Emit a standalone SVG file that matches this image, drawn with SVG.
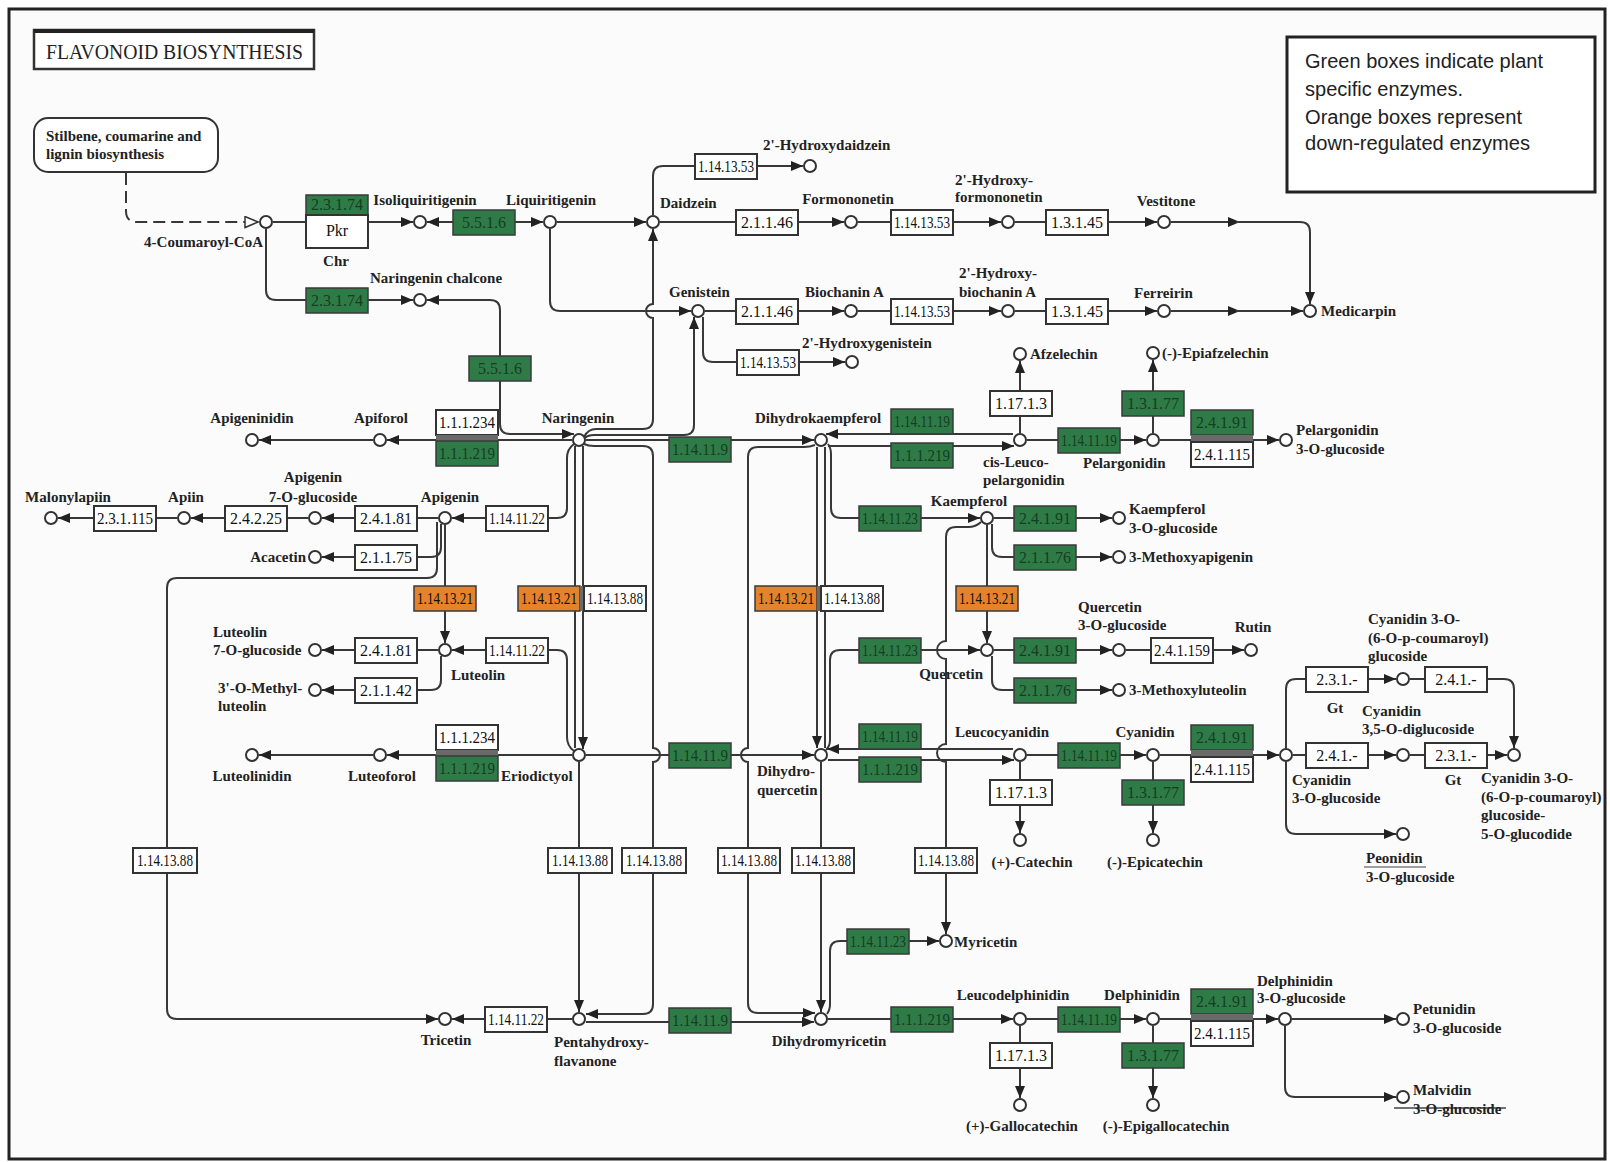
<svg xmlns="http://www.w3.org/2000/svg" width="1610" height="1162" viewBox="0 0 1610 1162">
<defs>
<style>
.ln{fill:none;stroke:#383838;stroke-width:2}
.ar{marker-end:url(#ah)}
.cp{fill:#fff;stroke:#333;stroke-width:2}
.bw{fill:#fff;stroke:#333;stroke-width:2}
.bg{fill:#2f7b47;stroke:#3a3a3a;stroke-width:1.5}
.bo{fill:#e5832c;stroke:#3a3a3a;stroke-width:1.5}
.band{fill:#6a6a6a}
.t{font-family:"Liberation Serif",serif;font-weight:bold;font-size:15px;fill:#222}
.m{text-anchor:middle}
.en{text-anchor:end}
.e{font-family:"Liberation Serif",serif;font-size:16px;text-anchor:middle;fill:#111}
.g{fill:#163d22}
.leg{font-family:"Liberation Sans",sans-serif;font-size:20px;fill:#222}
</style>
<marker id="ah" markerUnits="userSpaceOnUse" markerWidth="12" markerHeight="10" refX="12" refY="5" orient="auto"><path d="M0,0 L12,5 L0,10 z" fill="#222"/></marker>
<marker id="oa" markerUnits="userSpaceOnUse" markerWidth="15" markerHeight="13" refX="14" refY="6.5" orient="auto"><path d="M1,1 L14,6.5 L1,12 z" fill="#fff" stroke="#333" stroke-width="1.5"/></marker>
</defs>

<rect x="0" y="0" width="1610" height="1162" fill="#fff"/>
<rect x="9" y="9" width="1596" height="1150" fill="#fbfbfb" stroke="#222" stroke-width="3"/>

<!-- title -->
<g id="title">
<rect x="34" y="30" width="280" height="39" fill="#fff" stroke="#333" stroke-width="2.5"/>
<line x1="34" y1="31" x2="314" y2="31" stroke="#222" stroke-width="4"/>
<text x="46" y="59" font-family="Liberation Serif,serif" font-size="22" fill="#222" textLength="257" lengthAdjust="spacingAndGlyphs">FLAVONOID BIOSYNTHESIS</text>
</g>

<!-- legend -->
<g id="legend">
<rect x="1287" y="37" width="308" height="155" fill="#fff" stroke="#222" stroke-width="3"/>
<text class="leg" x="1305" y="68" textLength="238" lengthAdjust="spacingAndGlyphs">Green boxes indicate plant</text>
<text class="leg" x="1305" y="96" textLength="158" lengthAdjust="spacingAndGlyphs">specific enzymes.</text>
<text class="leg" x="1305" y="124" textLength="217" lengthAdjust="spacingAndGlyphs">Orange boxes represent</text>
<text class="leg" x="1305" y="150" textLength="225" lengthAdjust="spacingAndGlyphs">down-regulated enzymes</text>
</g>

<!-- linked pathway map -->
<g id="map-stilbene">
<rect x="34" y="118" width="184" height="54" rx="14" fill="#fff" stroke="#333" stroke-width="2"/>
<text class="t" x="46" y="141" font-size="13">Stilbene, coumarine and</text>
<text class="t" x="46" y="159" font-size="13">lignin biosynthesis</text>
</g>

<!-- reaction lines -->
<g id="connectors">
<path class="ln" stroke-dasharray="12 6" d="M126,173 L126,211 Q126,222 137,222 L258,222" marker-end="url(#oa)"/>
<path class="ln ar" d="M273,222 L413,222"/>
<path class="ln ar" d="M266,229 L266,290 Q266,300 276,300 L413,300"/>
<path class="ln ar" d="M500,222 L427,222"/>
<path class="ln ar" d="M470,222 L543,222"/>
<path class="ln ar" d="M557,222 L646,222"/>
<path class="ln ar" d="M550,229 L550,301 Q550,311 560,311 L691,311"/>
<path class="ln ar" d="M584,437 Q588,429 596,429 L643,429 Q653,429 653,419 L653,318 A7,7 0 0 1 653,304 L653,229"/>
<path class="ln ar" d="M585,438 Q588,435 594,435 L684,435 Q694,435 694,425 L694,317"/>
<path class="ln ar" d="M653,215 L653,176 Q653,166 663,166 L803,166"/>
<path class="ln ar" d="M660,222 L844,222"/>
<path class="ln ar" d="M858,222 L1001,222"/>
<path class="ln ar" d="M1015,222 L1157,222"/>
<path class="ln ar" d="M1171,222 L1240,222"/>
<path class="ln ar" d="M1236,222 L1300,222 Q1310,222 1310,232 L1310,304"/>
<path class="ln ar" d="M705,311 L844,311"/>
<path class="ln ar" d="M858,311 L1001,311"/>
<path class="ln ar" d="M1015,311 L1157,311"/>
<path class="ln ar" d="M1171,311 L1240,311"/>
<path class="ln ar" d="M1236,311 L1303,311"/>
<path class="ln ar" d="M703,317 L703,352 Q703,362 713,362 L845,362"/>
<path class="ln ar" d="M500,356 L500,310 Q500,300 490,300 L427,300"/>
<path class="ln ar" d="M500,381 L500,424 Q500,434 510,434 L574,434"/>
<path class="ln ar" d="M572,440 L387,440"/>
<path class="ln ar" d="M373,440 L259,440"/>
<path class="ln ar" d="M586,440 L814,440"/>
<path class="ln ar" d="M574,444 Q567,449 567,458 L567,508 Q567,518 557,518 L452,518"/>
<path class="ln" d="M575,446 L575,748"/>
<path class="ln ar" d="M583,446 L583,749"/>
<path class="ln ar" d="M584,444 Q588,446 594,446 L643,446 Q653,446 653,456 L653,748 A7,7 0 0 1 653,762 L653,1004 Q653,1014 643,1014 L586,1014"/>
<path class="ln ar" d="M445,525 L445,643"/>
<path class="ln ar" d="M441,524 L441,547 Q441,557 431,557 L322,557"/>
<path class="ln ar" d="M437,522 L437,568 Q437,578 427,578 L177,578 Q167,578 167,588 L167,1009 Q167,1019 177,1019 L438,1019"/>
<path class="ln ar" d="M438,518 L322,518"/>
<path class="ln ar" d="M308,518 L191,518"/>
<path class="ln ar" d="M177,518 L58,518"/>
<path class="ln ar" d="M438,650 L322,650"/>
<path class="ln ar" d="M441,656 L441,680 Q441,690 431,690 L322,690"/>
<path class="ln ar" d="M574,751 Q567,746 567,737 L567,660 Q567,650 557,650 L452,650"/>
<path class="ln ar" d="M572,755 L387,755"/>
<path class="ln ar" d="M373,755 L259,755"/>
<path class="ln ar" d="M586,755 L814,755"/>
<path class="ln ar" d="M579,762 L579,1012"/>
<path class="ln ar" d="M815,445 Q810,447 804,447 L758,447 Q748,447 748,457 L748,748 A7,7 0 0 0 748,762 L748,1003 Q748,1013 758,1013 L815,1013"/>
<path class="ln ar" d="M817,447 L817,748"/>
<path class="ln" d="M825,447 L825,748"/>
<path class="ln ar" d="M828,444 Q831,448 831,454 L831,508 Q831,518 841,518 L980,518"/>
<path class="ln ar" d="M1013,434 L826,434"/>
<path class="ln ar" d="M828,446 L1014,446"/>
<path class="ln ar" d="M1020,433 L1020,361"/>
<path class="ln ar" d="M1027,440 L1146,440"/>
<path class="ln ar" d="M1153,433 L1153,360"/>
<path class="ln ar" d="M1160,440 L1279,440"/>
<path class="ln ar" d="M994,518 L1112,518"/>
<path class="ln ar" d="M992,524 L992,547 Q992,557 1002,557 L1112,557"/>
<path class="ln ar" d="M987,525 L987,643"/>
<path class="ln ar" d="M981,522 Q976,527 968,527 L956,527 Q946,527 946,537 L946,641 A9,9 0 0 0 946,659 L946,744 A9,9 0 0 0 946,762 L946,934"/>
<path class="ln ar" d="M826,750 Q830,746 830,740 L830,660 Q830,650 840,650 L980,650"/>
<path class="ln ar" d="M994,650 L1112,650"/>
<path class="ln ar" d="M1126,650 L1244,650"/>
<path class="ln ar" d="M992,656 L992,680 Q992,690 1002,690 L1112,690"/>
<path class="ln ar" d="M1013,749 L827,749"/>
<path class="ln ar" d="M828,760 L1014,760"/>
<path class="ln ar" d="M1020,762 L1020,833"/>
<path class="ln ar" d="M1027,755 L1146,755"/>
<path class="ln ar" d="M1153,762 L1153,833"/>
<path class="ln ar" d="M1160,755 L1279,755"/>
<path class="ln ar" d="M1286,748 L1286,689 Q1286,679 1296,679 L1396,679"/>
<path class="ln ar" d="M1410,679 L1504,679 Q1514,679 1514,689 L1514,748"/>
<path class="ln ar" d="M1293,755 L1396,755"/>
<path class="ln ar" d="M1410,755 L1507,755"/>
<path class="ln ar" d="M1286,762 L1286,824 Q1286,834 1296,834 L1396,834"/>
<path class="ln ar" d="M821,762 L821,1012"/>
<path class="ln ar" d="M827,1014 Q830,1010 830,1004 L830,951 Q830,941 840,941 L939,941"/>
<path class="ln ar" d="M586,1022 L814,1022"/>
<path class="ln ar" d="M572,1019 L452,1019"/>
<path class="ln ar" d="M828,1019 L1013,1019"/>
<path class="ln ar" d="M1020,1026 L1020,1098"/>
<path class="ln ar" d="M1027,1019 L1146,1019"/>
<path class="ln ar" d="M1153,1026 L1153,1098"/>
<path class="ln ar" d="M1160,1019 L1278,1019"/>
<path class="ln ar" d="M1292,1019 L1396,1019"/>
<path class="ln ar" d="M1285,1026 L1285,1087 Q1285,1097 1295,1097 L1396,1097"/>
<line x1="1364" y1="867" x2="1426" y2="867" stroke="#444" stroke-width="1.2"/>
<line x1="1394" y1="1108" x2="1506" y2="1108" stroke="#444" stroke-width="1.5"/>
</g>

<!-- enzyme boxes -->
<g id="enzymes">
<g id="ec-pkr-chi"><rect class="bg" x="306" y="195" width="62" height="20"/><text class="e g" x="337" y="210">2.3.1.74</text><rect class="bw" x="306" y="215" width="62" height="33"/><text class="e" x="337" y="236">Pkr</text></g>
<g id="ec-2-3-1-74"><rect class="bg" x="306" y="288" width="62" height="25"/><text class="e g" x="337" y="306">2.3.1.74</text></g>
<g id="ec-5-5-1-6-a"><rect class="bg" x="453" y="210" width="62" height="25"/><text class="e g" x="484" y="228">5.5.1.6</text></g>
<g id="ec-5-5-1-6-b"><rect class="bg" x="469" y="356" width="62" height="25"/><text class="e g" x="500" y="374">5.5.1.6</text></g>
<g id="ec-1-14-13-53-a"><rect class="bw" x="695" y="154" width="62" height="25"/><text class="e" x="726" y="172" textLength="56" lengthAdjust="spacingAndGlyphs">1.14.13.53</text></g>
<g id="ec-2-1-1-46-a"><rect class="bw" x="736" y="210" width="62" height="25"/><text class="e" x="767" y="228">2.1.1.46</text></g>
<g id="ec-1-14-13-53-b"><rect class="bw" x="891" y="210" width="62" height="25"/><text class="e" x="922" y="228" textLength="56" lengthAdjust="spacingAndGlyphs">1.14.13.53</text></g>
<g id="ec-1-3-1-45-a"><rect class="bw" x="1046" y="210" width="62" height="25"/><text class="e" x="1077" y="228">1.3.1.45</text></g>
<g id="ec-2-1-1-46-b"><rect class="bw" x="736" y="299" width="62" height="25"/><text class="e" x="767" y="317">2.1.1.46</text></g>
<g id="ec-1-14-13-53-c"><rect class="bw" x="891" y="299" width="62" height="25"/><text class="e" x="922" y="317" textLength="56" lengthAdjust="spacingAndGlyphs">1.14.13.53</text></g>
<g id="ec-1-3-1-45-b"><rect class="bw" x="1046" y="299" width="62" height="25"/><text class="e" x="1077" y="317">1.3.1.45</text></g>
<g id="ec-1-14-13-53-d"><rect class="bw" x="737" y="350" width="62" height="25"/><text class="e" x="768" y="368" textLength="56" lengthAdjust="spacingAndGlyphs">1.14.13.53</text></g>

<g id="ec-apiforol"><rect class="bw" x="436" y="410" width="62" height="25"/><text class="e" x="467" y="428" textLength="56" lengthAdjust="spacingAndGlyphs">1.1.1.234</text><rect class="band" x="436" y="435" width="62" height="6"/><rect class="bg" x="436" y="441" width="62" height="25"/><text class="e g" x="467" y="459" textLength="56" lengthAdjust="spacingAndGlyphs">1.1.1.219</text></g>
<g id="ec-1-14-11-9-a"><rect class="bg" x="669" y="437" width="62" height="25"/><text class="e g" x="700" y="455" textLength="56" lengthAdjust="spacingAndGlyphs">1.14.11.9</text></g>
<g id="ec-dhk-pair"><rect class="bg" x="891" y="409" width="62" height="25"/><text class="e g" x="922" y="427" textLength="56" lengthAdjust="spacingAndGlyphs">1.14.11.19</text><rect class="bg" x="891" y="443" width="62" height="25"/><text class="e g" x="922" y="461" textLength="56" lengthAdjust="spacingAndGlyphs">1.1.1.219</text></g>
<g id="ec-1-17-1-3-a"><rect class="bw" x="990" y="391" width="62" height="25"/><text class="e" x="1021" y="409">1.17.1.3</text></g>
<g id="ec-1-14-11-19-a"><rect class="bg" x="1058" y="428" width="62" height="25"/><text class="e g" x="1089" y="446" textLength="56" lengthAdjust="spacingAndGlyphs">1.14.11.19</text></g>
<g id="ec-1-3-1-77-a"><rect class="bg" x="1122" y="391" width="62" height="25"/><text class="e g" x="1153" y="409">1.3.1.77</text></g>
<g id="ec-pel-pair"><rect class="bg" x="1191" y="410" width="62" height="25"/><text class="e g" x="1222" y="428">2.4.1.91</text><rect class="band" x="1191" y="435" width="62" height="7"/><rect class="bw" x="1191" y="442" width="62" height="25"/><text class="e" x="1222" y="460" textLength="56" lengthAdjust="spacingAndGlyphs">2.4.1.115</text></g>

<g id="ec-1-14-11-22-a"><rect class="bw" x="486" y="506" width="62" height="25"/><text class="e" x="517" y="524" textLength="56" lengthAdjust="spacingAndGlyphs">1.14.11.22</text></g>
<g id="ec-2-4-1-81-a"><rect class="bw" x="355" y="506" width="62" height="25"/><text class="e" x="386" y="524">2.4.1.81</text></g>
<g id="ec-2-4-2-25"><rect class="bw" x="225" y="506" width="62" height="25"/><text class="e" x="256" y="524">2.4.2.25</text></g>
<g id="ec-2-3-1-115"><rect class="bw" x="94" y="506" width="62" height="25"/><text class="e" x="125" y="524" textLength="56" lengthAdjust="spacingAndGlyphs">2.3.1.115</text></g>
<g id="ec-2-1-1-75"><rect class="bw" x="355" y="545" width="62" height="25"/><text class="e" x="386" y="563">2.1.1.75</text></g>
<g id="ec-1-14-11-23-a"><rect class="bg" x="859" y="506" width="62" height="25"/><text class="e g" x="890" y="524" textLength="56" lengthAdjust="spacingAndGlyphs">1.14.11.23</text></g>
<g id="ec-2-4-1-91-a"><rect class="bg" x="1014" y="506" width="62" height="25"/><text class="e g" x="1045" y="524">2.4.1.91</text></g>
<g id="ec-2-1-1-76-a"><rect class="bg" x="1014" y="545" width="62" height="25"/><text class="e g" x="1045" y="563">2.1.1.76</text></g>

<g id="ec-1-14-13-21-a"><rect class="bo" x="414" y="586" width="62" height="25"/><text class="e" x="445" y="604" textLength="56" lengthAdjust="spacingAndGlyphs">1.14.13.21</text></g>
<g id="ec-nar-pair"><rect class="bo" x="518" y="586" width="62" height="25"/><text class="e" x="549" y="604" textLength="56" lengthAdjust="spacingAndGlyphs">1.14.13.21</text><rect class="band" x="580" y="586" width="4" height="25"/><rect class="bw" x="584" y="586" width="62" height="25"/><text class="e" x="615" y="604" textLength="56" lengthAdjust="spacingAndGlyphs">1.14.13.88</text></g>
<g id="ec-dhk-f3h-pair"><rect class="bo" x="755" y="586" width="62" height="25"/><text class="e" x="786" y="604" textLength="56" lengthAdjust="spacingAndGlyphs">1.14.13.21</text><rect class="band" x="817" y="586" width="4" height="25"/><rect class="bw" x="821" y="586" width="62" height="25"/><text class="e" x="852" y="604" textLength="56" lengthAdjust="spacingAndGlyphs">1.14.13.88</text></g>
<g id="ec-1-14-13-21-d"><rect class="bo" x="956" y="586" width="62" height="25"/><text class="e" x="987" y="604" textLength="56" lengthAdjust="spacingAndGlyphs">1.14.13.21</text></g>

<g id="ec-1-14-11-22-b"><rect class="bw" x="486" y="638" width="62" height="25"/><text class="e" x="517" y="656" textLength="56" lengthAdjust="spacingAndGlyphs">1.14.11.22</text></g>
<g id="ec-2-4-1-81-b"><rect class="bw" x="355" y="638" width="62" height="25"/><text class="e" x="386" y="656">2.4.1.81</text></g>
<g id="ec-2-1-1-42"><rect class="bw" x="355" y="678" width="62" height="25"/><text class="e" x="386" y="696">2.1.1.42</text></g>
<g id="ec-1-14-11-23-b"><rect class="bg" x="859" y="638" width="62" height="25"/><text class="e g" x="890" y="656" textLength="56" lengthAdjust="spacingAndGlyphs">1.14.11.23</text></g>
<g id="ec-2-4-1-91-b"><rect class="bg" x="1014" y="638" width="62" height="25"/><text class="e g" x="1045" y="656">2.4.1.91</text></g>
<g id="ec-2-4-1-159"><rect class="bw" x="1151" y="638" width="62" height="25"/><text class="e" x="1182" y="656" textLength="56" lengthAdjust="spacingAndGlyphs">2.4.1.159</text></g>
<g id="ec-2-1-1-76-b"><rect class="bg" x="1014" y="678" width="62" height="25"/><text class="e g" x="1045" y="696">2.1.1.76</text></g>
<g id="ec-2-3-1-x-a"><rect class="bw" x="1306" y="667" width="62" height="25"/><text class="e" x="1337" y="685">2.3.1.-</text></g>
<g id="ec-2-4-1-x-a"><rect class="bw" x="1425" y="667" width="62" height="25"/><text class="e" x="1456" y="685">2.4.1.-</text></g>

<g id="ec-luteoforol"><rect class="bw" x="436" y="725" width="62" height="25"/><text class="e" x="467" y="743" textLength="56" lengthAdjust="spacingAndGlyphs">1.1.1.234</text><rect class="band" x="436" y="750" width="62" height="6"/><rect class="bg" x="436" y="756" width="62" height="25"/><text class="e g" x="467" y="774" textLength="56" lengthAdjust="spacingAndGlyphs">1.1.1.219</text></g>
<g id="ec-1-14-11-9-b"><rect class="bg" x="669" y="743" width="62" height="25"/><text class="e g" x="700" y="761" textLength="56" lengthAdjust="spacingAndGlyphs">1.14.11.9</text></g>
<g id="ec-dhq-pair"><rect class="bg" x="859" y="724" width="62" height="25"/><text class="e g" x="890" y="742" textLength="56" lengthAdjust="spacingAndGlyphs">1.14.11.19</text><rect class="bg" x="859" y="757" width="62" height="25"/><text class="e g" x="890" y="775" textLength="56" lengthAdjust="spacingAndGlyphs">1.1.1.219</text></g>
<g id="ec-1-17-1-3-b"><rect class="bw" x="990" y="780" width="62" height="25"/><text class="e" x="1021" y="798">1.17.1.3</text></g>
<g id="ec-1-14-11-19-b"><rect class="bg" x="1058" y="743" width="62" height="25"/><text class="e g" x="1089" y="761" textLength="56" lengthAdjust="spacingAndGlyphs">1.14.11.19</text></g>
<g id="ec-1-3-1-77-b"><rect class="bg" x="1122" y="780" width="62" height="25"/><text class="e g" x="1153" y="798">1.3.1.77</text></g>
<g id="ec-cya-pair"><rect class="bg" x="1191" y="725" width="62" height="25"/><text class="e g" x="1222" y="743">2.4.1.91</text><rect class="band" x="1191" y="750" width="62" height="7"/><rect class="bw" x="1191" y="757" width="62" height="25"/><text class="e" x="1222" y="775" textLength="56" lengthAdjust="spacingAndGlyphs">2.4.1.115</text></g>
<g id="ec-2-4-1-x-b"><rect class="bw" x="1306" y="743" width="62" height="25"/><text class="e" x="1337" y="761">2.4.1.-</text></g>
<g id="ec-2-3-1-x-b"><rect class="bw" x="1425" y="743" width="62" height="25"/><text class="e" x="1456" y="761">2.3.1.-</text></g>

<g id="ec-f35h-row">
<rect class="bw" x="133" y="848" width="64" height="25"/><text class="e" x="165" y="866" textLength="56" lengthAdjust="spacingAndGlyphs">1.14.13.88</text>
<rect class="bw" x="548" y="848" width="64" height="25"/><text class="e" x="580" y="866" textLength="56" lengthAdjust="spacingAndGlyphs">1.14.13.88</text>
<rect class="bw" x="622" y="848" width="64" height="25"/><text class="e" x="654" y="866" textLength="56" lengthAdjust="spacingAndGlyphs">1.14.13.88</text>
<rect class="bw" x="718" y="848" width="62" height="25"/><text class="e" x="749" y="866" textLength="56" lengthAdjust="spacingAndGlyphs">1.14.13.88</text>
<rect class="bw" x="792" y="848" width="62" height="25"/><text class="e" x="823" y="866" textLength="56" lengthAdjust="spacingAndGlyphs">1.14.13.88</text>
<rect class="bw" x="915" y="848" width="62" height="25"/><text class="e" x="946" y="866" textLength="56" lengthAdjust="spacingAndGlyphs">1.14.13.88</text>
</g>
<g id="ec-1-14-11-23-c"><rect class="bg" x="847" y="929" width="62" height="25"/><text class="e g" x="878" y="947" textLength="56" lengthAdjust="spacingAndGlyphs">1.14.11.23</text></g>
<g id="ec-1-14-11-22-c"><rect class="bw" x="485" y="1007" width="62" height="25"/><text class="e" x="516" y="1025" textLength="56" lengthAdjust="spacingAndGlyphs">1.14.11.22</text></g>
<g id="ec-1-14-11-9-c"><rect class="bg" x="669" y="1008" width="62" height="25"/><text class="e g" x="700" y="1026" textLength="56" lengthAdjust="spacingAndGlyphs">1.14.11.9</text></g>
<g id="ec-1-1-1-219-d"><rect class="bg" x="891" y="1007" width="62" height="25"/><text class="e g" x="922" y="1025" textLength="56" lengthAdjust="spacingAndGlyphs">1.1.1.219</text></g>
<g id="ec-1-17-1-3-c"><rect class="bw" x="990" y="1043" width="62" height="25"/><text class="e" x="1021" y="1061">1.17.1.3</text></g>
<g id="ec-1-14-11-19-c"><rect class="bg" x="1058" y="1007" width="62" height="25"/><text class="e g" x="1089" y="1025" textLength="56" lengthAdjust="spacingAndGlyphs">1.14.11.19</text></g>
<g id="ec-1-3-1-77-c"><rect class="bg" x="1122" y="1043" width="62" height="25"/><text class="e g" x="1153" y="1061">1.3.1.77</text></g>
<g id="ec-del-pair"><rect class="bg" x="1191" y="989" width="62" height="25"/><text class="e g" x="1222" y="1007">2.4.1.91</text><rect class="band" x="1191" y="1014" width="62" height="7"/><rect class="bw" x="1191" y="1021" width="62" height="25"/><text class="e" x="1222" y="1039" textLength="56" lengthAdjust="spacingAndGlyphs">2.4.1.115</text></g>
<text class="t m" x="336" y="266">Chr</text>
<text class="t m" x="1335" y="713">Gt</text>
<text class="t m" x="1453" y="785">Gt</text>
</g>

<!-- compounds -->
<g id="compounds">
<g id="cpd-coumaroyl-coa"><circle class="cp" cx="266" cy="222" r="6"/><text class="t en" x="263" y="247">4-Coumaroyl-CoA</text></g>
<g id="cpd-isoliquiritigenin"><circle class="cp" cx="420" cy="222" r="6"/><text class="t m" x="425" y="205">Isoliquiritigenin</text></g>
<g id="cpd-liquiritigenin"><circle class="cp" cx="550" cy="222" r="6"/><text class="t m" x="551" y="205">Liquiritigenin</text></g>
<g id="cpd-naringenin-chalcone"><circle class="cp" cx="420" cy="300" r="6"/><text class="t" x="370" y="283">Naringenin chalcone</text></g>
<g id="cpd-daidzein"><circle class="cp" cx="653" cy="222" r="6"/><text class="t" x="660" y="208">Daidzein</text></g>
<g id="cpd-2-hydroxydaidzein"><circle class="cp" cx="810" cy="166" r="6"/><text class="t" x="763" y="150">2'-Hydroxydaidzein</text></g>
<g id="cpd-formononetin"><circle class="cp" cx="851" cy="222" r="6"/><text class="t m" x="848" y="204">Formononetin</text></g>
<g id="cpd-2-hydroxyformononetin"><circle class="cp" cx="1008" cy="222" r="6"/><text class="t" x="955" y="185">2'-Hydroxy-</text><text class="t" x="955" y="202">formononetin</text></g>
<g id="cpd-vestitone"><circle class="cp" cx="1164" cy="222" r="6"/><text class="t m" x="1166" y="206">Vestitone</text></g>
<g id="cpd-medicarpin"><circle class="cp" cx="1310" cy="311" r="6"/><text class="t" x="1321" y="316">Medicarpin</text></g>
<g id="cpd-genistein"><circle class="cp" cx="698" cy="311" r="6"/><text class="t" x="669" y="297">Genistein</text></g>
<g id="cpd-biochanin-a"><circle class="cp" cx="851" cy="311" r="6"/><text class="t" x="805" y="297">Biochanin A</text></g>
<g id="cpd-2-hydroxybiochanin-a"><circle class="cp" cx="1008" cy="311" r="6"/><text class="t" x="959" y="278">2'-Hydroxy-</text><text class="t" x="959" y="297">biochanin A</text></g>
<g id="cpd-ferreirin"><circle class="cp" cx="1164" cy="311" r="6"/><text class="t" x="1134" y="298">Ferreirin</text></g>
<g id="cpd-2-hydroxygenistein"><circle class="cp" cx="852" cy="362" r="6"/><text class="t" x="802" y="348">2'-Hydroxygenistein</text></g>
<g id="cpd-naringenin"><circle class="cp" cx="579" cy="440" r="6"/><text class="t m" x="578" y="423">Naringenin</text></g>
<g id="cpd-apiforol"><circle class="cp" cx="380" cy="440" r="6"/><text class="t m" x="381" y="423">Apiforol</text></g>
<g id="cpd-apigeninidin"><circle class="cp" cx="252" cy="440" r="6"/><text class="t m" x="252" y="423">Apigeninidin</text></g>
<g id="cpd-dihydrokaempferol"><circle class="cp" cx="821" cy="440" r="6"/><text class="t m" x="818" y="423">Dihydrokaempferol</text></g>
<g id="cpd-cis-leucopelargonidin"><circle class="cp" cx="1020" cy="440" r="6"/><text class="t" x="983" y="467">cis-Leuco-</text><text class="t" x="983" y="485">pelargonidin</text></g>
<g id="cpd-afzelechin"><circle class="cp" cx="1020" cy="354" r="6"/><text class="t" x="1030" y="359">Afzelechin</text></g>
<g id="cpd-pelargonidin"><circle class="cp" cx="1153" cy="440" r="6"/><text class="t" x="1083" y="468">Pelargonidin</text></g>
<g id="cpd-epiafzelechin"><circle class="cp" cx="1153" cy="353" r="6"/><text class="t" x="1162" y="358">(-)-Epiafzelechin</text></g>
<g id="cpd-pelargonidin-3g"><circle class="cp" cx="1286" cy="440" r="6"/><text class="t" x="1296" y="435">Pelargonidin</text><text class="t" x="1296" y="454">3-O-glucoside</text></g>
<g id="cpd-apigenin"><circle class="cp" cx="445" cy="518" r="6"/><text class="t m" x="450" y="502">Apigenin</text></g>
<g id="cpd-apigenin-7g"><circle class="cp" cx="315" cy="518" r="6"/><text class="t m" x="313" y="482">Apigenin</text><text class="t m" x="313" y="502">7-O-glucoside</text></g>
<g id="cpd-apiin"><circle class="cp" cx="184" cy="518" r="6"/><text class="t m" x="186" y="502">Apiin</text></g>
<g id="cpd-malonylapiin"><circle class="cp" cx="51" cy="518" r="6"/><text class="t m" x="68" y="502">Malonylapiin</text></g>
<g id="cpd-acacetin"><circle class="cp" cx="315" cy="557" r="6"/><text class="t en" x="306" y="562">Acacetin</text></g>
<g id="cpd-kaempferol"><circle class="cp" cx="987" cy="518" r="6"/><text class="t m" x="969" y="506">Kaempferol</text></g>
<g id="cpd-kaempferol-3g"><circle class="cp" cx="1119" cy="518" r="6"/><text class="t" x="1129" y="514">Kaempferol</text><text class="t" x="1129" y="533">3-O-glucoside</text></g>
<g id="cpd-3-methoxyapigenin"><circle class="cp" cx="1119" cy="557" r="6"/><text class="t" x="1129" y="562">3-Methoxyapigenin</text></g>
<g id="cpd-luteolin"><circle class="cp" cx="445" cy="650" r="6"/><text class="t" x="451" y="680">Luteolin</text></g>
<g id="cpd-luteolin-7g"><circle class="cp" cx="315" cy="650" r="6"/><text class="t" x="213" y="637">Luteolin</text><text class="t" x="213" y="655">7-O-glucoside</text></g>
<g id="cpd-methylluteolin"><circle class="cp" cx="315" cy="690" r="6"/><text class="t" x="218" y="693">3'-O-Methyl-</text><text class="t" x="218" y="711">luteolin</text></g>
<g id="cpd-quercetin"><circle class="cp" cx="987" cy="650" r="6"/><text class="t en" x="983" y="679">Quercetin</text></g>
<g id="cpd-quercetin-3g"><circle class="cp" cx="1119" cy="650" r="6"/><text class="t" x="1078" y="612">Quercetin</text><text class="t" x="1078" y="630">3-O-glucoside</text></g>
<g id="cpd-rutin"><circle class="cp" cx="1251" cy="650" r="6"/><text class="t m" x="1253" y="632">Rutin</text></g>
<g id="cpd-3-methoxyluteolin"><circle class="cp" cx="1119" cy="690" r="6"/><text class="t" x="1129" y="695">3-Methoxyluteolin</text></g>
<g id="cpd-cyanidin-3-coumaroylglucoside"><circle class="cp" cx="1403" cy="679" r="6"/><text class="t" x="1368" y="624">Cyanidin 3-O-</text><text class="t" x="1368" y="643">(6-O-p-coumaroyl)</text><text class="t" x="1368" y="661">glucoside</text></g>
<g id="cpd-cyanidin-35-diglucoside"><circle class="cp" cx="1403" cy="755" r="6"/><text class="t" x="1362" y="716">Cyanidin</text><text class="t" x="1362" y="734">3,5-O-diglucoside</text></g>
<g id="cpd-cyanidin-coumaroyl-5g"><circle class="cp" cx="1514" cy="755" r="6"/><text class="t" x="1481" y="783">Cyanidin 3-O-</text><text class="t" x="1481" y="802">(6-O-p-coumaroyl)</text><text class="t" x="1481" y="820">glucoside-</text><text class="t" x="1481" y="839">5-O-glucodide</text></g>
<g id="cpd-eriodictyol"><circle class="cp" cx="579" cy="755" r="6"/><text class="t" x="501" y="781">Eriodictyol</text></g>
<g id="cpd-luteoforol"><circle class="cp" cx="380" cy="755" r="6"/><text class="t m" x="382" y="781">Luteoforol</text></g>
<g id="cpd-luteolinidin"><circle class="cp" cx="252" cy="755" r="6"/><text class="t m" x="252" y="781">Luteolinidin</text></g>
<g id="cpd-dihydroquercetin"><circle class="cp" cx="821" cy="755" r="6"/><text class="t" x="757" y="776">Dihydro-</text><text class="t" x="757" y="795">quercetin</text></g>
<g id="cpd-leucocyanidin"><circle class="cp" cx="1020" cy="755" r="6"/><text class="t m" x="1002" y="737">Leucocyanidin</text></g>
<g id="cpd-cyanidin"><circle class="cp" cx="1153" cy="755" r="6"/><text class="t m" x="1145" y="737">Cyanidin</text></g>
<g id="cpd-cyanidin-3g"><circle class="cp" cx="1286" cy="755" r="6"/><text class="t" x="1292" y="785">Cyanidin</text><text class="t" x="1292" y="803">3-O-glucoside</text></g>
<g id="cpd-catechin"><circle class="cp" cx="1020" cy="840" r="6"/><text class="t m" x="1032" y="867">(+)-Catechin</text></g>
<g id="cpd-epicatechin"><circle class="cp" cx="1153" cy="840" r="6"/><text class="t m" x="1155" y="867">(-)-Epicatechin</text></g>
<g id="cpd-peonidin-3g"><circle class="cp" cx="1403" cy="834" r="6"/><text class="t" x="1366" y="863">Peonidin</text><text class="t" x="1366" y="882">3-O-glucoside</text></g>
<g id="cpd-myricetin"><circle class="cp" cx="946" cy="941" r="6"/><text class="t" x="954" y="947">Myricetin</text></g>
<g id="cpd-tricetin"><circle class="cp" cx="445" cy="1019" r="6"/><text class="t m" x="446" y="1045">Tricetin</text></g>
<g id="cpd-pentahydroxyflavanone"><circle class="cp" cx="579" cy="1019" r="6"/><text class="t" x="554" y="1047">Pentahydroxy-</text><text class="t" x="554" y="1066">flavanone</text></g>
<g id="cpd-dihydromyricetin"><circle class="cp" cx="821" cy="1019" r="6"/><text class="t m" x="829" y="1046">Dihydromyricetin</text></g>
<g id="cpd-leucodelphinidin"><circle class="cp" cx="1020" cy="1019" r="6"/><text class="t m" x="1013" y="1000">Leucodelphinidin</text></g>
<g id="cpd-delphinidin"><circle class="cp" cx="1153" cy="1019" r="6"/><text class="t m" x="1142" y="1000">Delphinidin</text></g>
<g id="cpd-delphinidin-3g"><circle class="cp" cx="1285" cy="1019" r="6"/><text class="t" x="1257" y="986">Delphinidin</text><text class="t" x="1257" y="1003">3-O-glucoside</text></g>
<g id="cpd-petunidin-3g"><circle class="cp" cx="1403" cy="1019" r="6"/><text class="t" x="1413" y="1014">Petunidin</text><text class="t" x="1413" y="1033">3-O-glucoside</text></g>
<g id="cpd-malvidin-3g"><circle class="cp" cx="1403" cy="1097" r="6"/><text class="t" x="1413" y="1095">Malvidin</text><text class="t" x="1413" y="1114">3-O-glucoside</text></g>
<g id="cpd-gallocatechin"><circle class="cp" cx="1020" cy="1105" r="6"/><text class="t m" x="1022" y="1131">(+)-Gallocatechin</text></g>
<g id="cpd-epigallocatechin"><circle class="cp" cx="1153" cy="1105" r="6"/><text class="t m" x="1166" y="1131">(-)-Epigallocatechin</text></g>
</g>
</svg>
